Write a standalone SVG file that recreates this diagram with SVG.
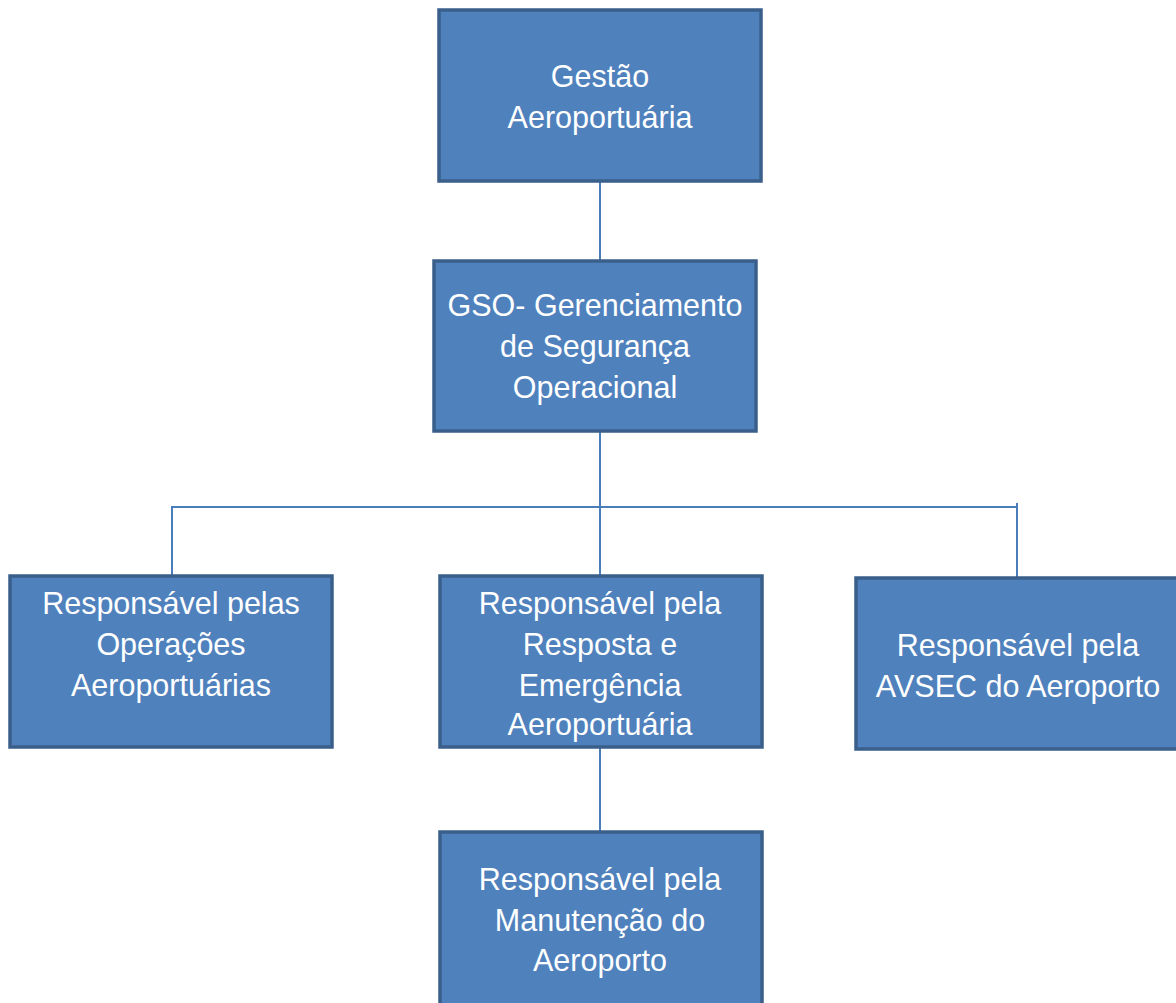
<svg xmlns="http://www.w3.org/2000/svg" width="1176" height="1003" viewBox="0 0 1176 1003">
<style>
.box{fill:#4F81BD;stroke:#3A5F8B;stroke-width:3.5}
.lbl{fill:#FFFFFF;font-family:"Liberation Sans",Arial,sans-serif;font-size:30.5px;text-anchor:middle}
.con{stroke:#4A7EBB;stroke-width:2;fill:none}
</style>
<rect width="1176" height="1003" fill="#FFFFFF"/>
<g id="connectors">
<line class="con" x1="600" y1="182" x2="600" y2="260"/>
<line class="con" x1="600" y1="432" x2="600" y2="575"/>
<polyline class="con" points="172,575 172,507 1017,507 1017,577"/>
<line class="con" x1="1017" y1="503" x2="1017" y2="507"/>
<line class="con" x1="600" y1="748" x2="600" y2="831"/>
</g>
<g id="n1"><rect class="box" x="439" y="10" width="322" height="171"/>
<text class="lbl" x="600" y="87">Gestão</text><text class="lbl" x="600" y="128">Aeroportuária</text></g>
<g id="n2"><rect class="box" x="434" y="261" width="322" height="170"/>
<text class="lbl" x="595" y="316">GSO- Gerenciamento</text><text class="lbl" x="595" y="357">de Segurança</text><text class="lbl" x="595" y="398">Operacional</text></g>
<g id="n3"><rect class="box" x="10" y="576" width="322" height="171"/>
<text class="lbl" x="171" y="614">Responsável pelas</text><text class="lbl" x="171" y="655">Operações</text><text class="lbl" x="171" y="696">Aeroportuárias</text></g>
<g id="n4"><rect class="box" x="440" y="576" width="322" height="171"/>
<text class="lbl" x="600" y="614">Responsável pela</text><text class="lbl" x="600" y="655">Resposta e</text><text class="lbl" x="600" y="696">Emergência</text><text class="lbl" x="600" y="735">Aeroportuária</text></g>
<g id="n5"><rect class="box" x="856" y="578" width="324" height="171"/>
<text class="lbl" x="1018" y="656">Responsável pela</text><text class="lbl" x="1018" y="697">AVSEC do Aeroporto</text></g>
<g id="n6"><rect class="box" x="440" y="832" width="322" height="180"/>
<text class="lbl" x="600" y="890">Responsável pela</text><text class="lbl" x="600" y="931">Manutenção do</text><text class="lbl" x="600" y="971">Aeroporto</text></g>
</svg>
